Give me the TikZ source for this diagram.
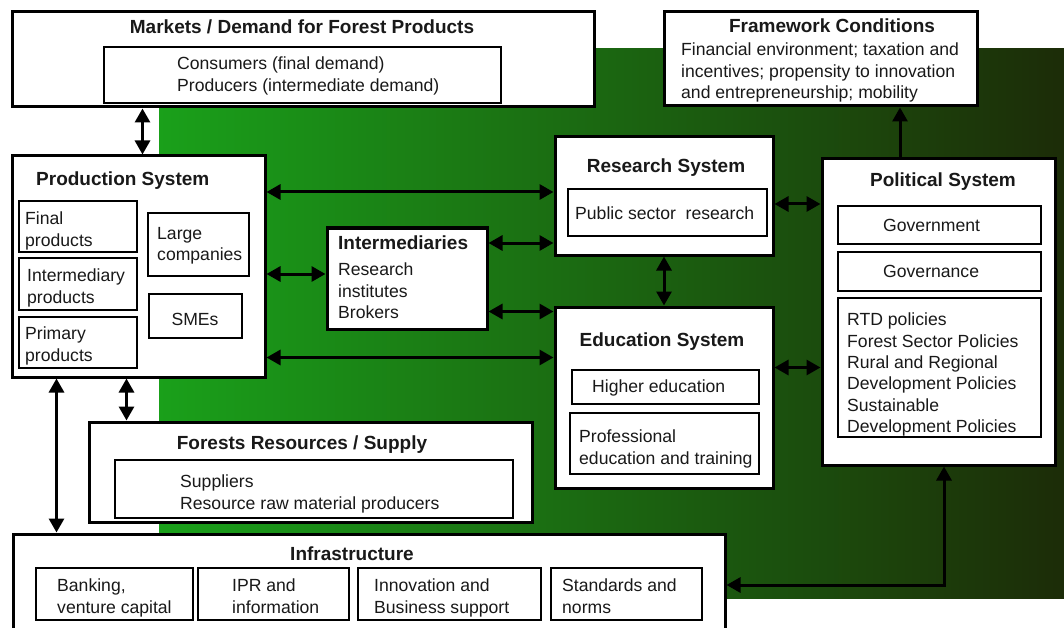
\documentclass[tikz,border=0pt]{standalone}
\usepackage{fontspec}
\setmainfont{Liberation Sans}
\usetikzlibrary{arrows.meta, fit}

\definecolor{forestlight}{RGB}{26,160,26}
\definecolor{forestdark}{RGB}{28,44,8}
\definecolor{ink}{RGB}{25,25,25}

\tikzset{
  system/.style={draw, line width=3pt, fill=white, inner sep=0pt},
  part/.style={draw, line width=2.4pt, fill=white, inner sep=0pt},
  heading/.style={anchor=north, inner sep=0pt, text=ink,
    font=\fontsize{19}{22}\selectfont\bfseries},
  entry/.style={anchor=north west, inner sep=0pt, align=left, text=ink,
    font=\fontsize{17.6}{21.3}\selectfont},
  link/.style={line width=3pt, <->, >={Triangle[length=14pt,width=15pt]}},
}

\begin{document}
\begin{tikzpicture}[x=1pt, y=-1pt]
  \clip (0,0) rectangle (1064,628);
  \fill[white] (0,0) rectangle (1064,628);
  % green backdrop
  \shade[left color=forestlight, right color=forestdark] (159,49) rectangle (1064,598);

  % systems
  \node[system, fit={(12,12) (594,107)}] (markets) {};
  \node[system, fit={(664,12) (977,106)}] (frame) {};
  \node[system, fit={(12,156) (265,377)}] (prod) {};
  \node[system, fit={(327,228) (487,329)}] (inter) {};
  \node[system, fit={(555,137) (773,255)}] (research) {};
  \node[system, fit={(555,307) (773,488)}] (edu) {};
  \node[system, fit={(822,159) (1055,465)}] (pol) {};
  \node[system, fit={(89,422) (532,522)}] (forests) {};
  \node[system, fit={(13,534) (725,636)}] (infra) {};

  % parts inside the systems
  \node[part, fit={(104,47) (501,103)}] (demand) {};
  \node[part, fit={(19,201) (137,252)}] (final) {};
  \node[part, fit={(19,258) (137,310)}] (interm) {};
  \node[part, fit={(19,317) (137,368)}] (primary) {};
  \node[part, fit={(148,213) (249,276)}] (large) {};
  \node[part, fit={(149,294) (242,338)}] (smes) {};
  \node[part, fit={(568,189) (767,236)}] (public) {};
  \node[part, fit={(572,370) (759,404)}] (higher) {};
  \node[part, fit={(570,413) (759,474)}] (training) {};
  \node[part, fit={(838,206) (1041,244)}] (gov) {};
  \node[part, fit={(838,252) (1041,291)}] (governance) {};
  \node[part, fit={(838,298) (1041,437)}] (policies) {};
  \node[part, fit={(115,460) (513,518)}] (supply) {};
  \node[part, fit={(36,568) (193,620)}] (banking) {};
  \node[part, fit={(198,568) (349,620)}] (ipr) {};
  \node[part, fit={(358,568) (541,620)}] (support) {};
  \node[part, fit={(551,568) (702,620)}] (norms) {};

  % headings
  \node[heading] (markets-title) at (302,19.5) {Markets / Demand for Forest Products};
  \node[heading] (frame-title) at (832,19) {Framework Conditions};
  \node[heading, anchor=north west] (prod-title) at (36,172) {Production System};
  \node[heading, anchor=north west] (inter-title) at (338,236) {Intermediaries};
  \node[heading] (research-title) at (666,159) {Research System};
  \node[heading] (edu-title) at (662,333) {Education System};
  \node[heading] (pol-title) at (943,173) {Political System};
  \node[heading] (forests-title) at (302,436) {Forests Resources / Supply};
  \node[heading] (infra-title) at (352,547) {Infrastructure};

  % texts
  \node[entry] (demand-text) at (177,57) {Consumers (final demand)\\Producers (intermediate demand)};
  \node[entry] (frame-text) at (681,43) {Financial environment; taxation and\\incentives; propensity to innovation\\and entrepreneurship; mobility};
  \node[entry] (final-text) at (25,212) {Final\\products};
  \node[entry] (interm-text) at (27,269) {Intermediary\\products};
  \node[entry] (primary-text) at (25,327) {Primary\\products};
  \node[entry] (large-text) at (157,227) {Large\\companies};
  \node[entry, anchor=north] (smes-text) at (195,313) {SMEs};
  \node[entry] (inter-text) at (338,263) {Research\\institutes\\Brokers};
  \node[entry] (public-text) at (575,207) {Public sector~ research};
  \node[entry] (higher-text) at (592,380) {Higher education};
  \node[entry] (training-text) at (579,430) {Professional\\education and training};
  \node[entry] (gov-text) at (883,219) {Government};
  \node[entry] (governance-text) at (883,265) {Governance};
  \node[entry] (policies-text) at (847,313) {RTD policies\\Forest Sector Policies\\Rural and Regional\\Development Policies\\Sustainable\\Development Policies};
  \node[entry] (supply-text) at (180,475) {Suppliers\\Resource raw material producers};
  \node[entry] (banking-text) at (57,579) {Banking,\\venture capital};
  \node[entry] (ipr-text) at (232,579) {IPR and\\information};
  \node[entry] (support-text) at (374,579) {Innovation and\\Business support};
  \node[entry] (norms-text) at (562,579) {Standards and\\norms};

  % links
  \draw[link] ([xshift=132pt]markets.south west) -- ([xshift=132pt]markets.south west |- prod.north);
  \draw[link] ([xshift=116pt]prod.south west) -- ([xshift=116pt]prod.south west |- forests.north);
  \draw[link] ([xshift=46pt]prod.south west) -- ([xshift=46pt]prod.south west |- infra.north);
  \draw[link] (research.south) -- (edu.north);

  \draw[link] ([yshift=4pt]research.west -| prod.east) -- ([yshift=4pt]research.west);
  \draw[link] ([yshift=4.5pt]inter.west -| prod.east) -- ([yshift=4.5pt]inter.west);
  \draw[link] ([yshift=-52pt]edu.north west -| prod.east) -- ([yshift=-52pt]edu.north west);
  \draw[link] ([yshift=-47pt]research.west -| inter.east) -- ([yshift=-47pt]research.west);
  \draw[link] ([yshift=-6pt]edu.north west -| inter.east) -- ([yshift=-6pt]edu.north west);

  \draw[link] ([yshift=-8pt]research.east) -- ([yshift=-8pt]research.east -| pol.west);
  \draw[link] ([yshift=-62pt]edu.north east) -- ([yshift=-62pt]edu.north east -| pol.west);

  \draw[link, ->] ([xshift=-38.5pt]pol.north) -- ([xshift=-38.5pt]pol.north |- frame.south);
  \draw[link] ([xshift=5.5pt]pol.south) |- (infra.east);
\end{tikzpicture}
\end{document}
